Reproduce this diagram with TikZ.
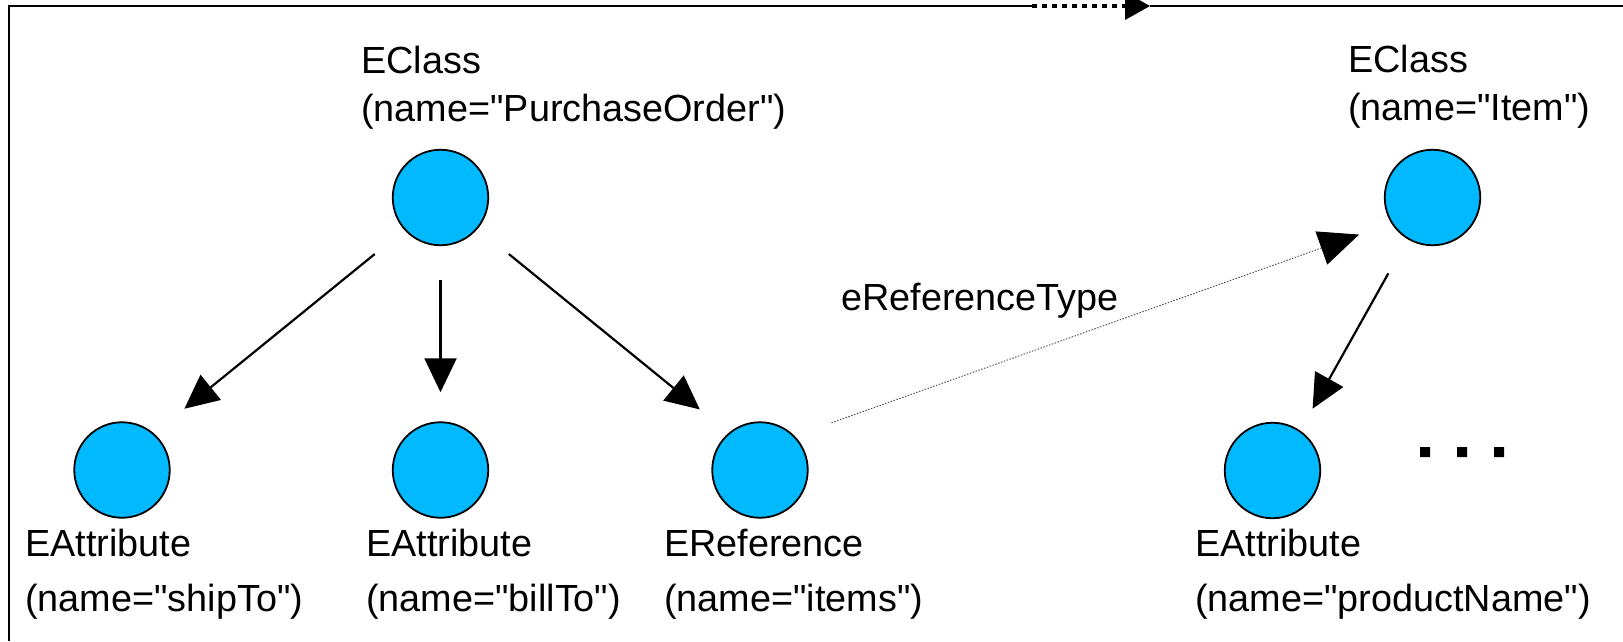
\documentclass[tikz,border=0pt]{standalone}
\usepackage{fontspec}
\setmainfont{Liberation Sans}[Ligatures=TeXOff]
\usetikzlibrary{arrows.meta, calc, positioning}

\definecolor{eblue}{RGB}{0,185,255}

\tikzstyle{eobject} = [circle, draw=black, line width=1.8pt, fill=eblue, minimum size=95.5pt, inner sep=0pt, outer sep=0pt]
\tikzstyle{elabel} = [anchor=north west, inner sep=0pt, align=left, font=\fontsize{37.8}{48}\selectfont]
\tikzstyle{blabel} = [elabel, font=\fontsize{37.8}{55}\selectfont]
\tikzstyle{arrow} = [line width=2.2pt, -{Triangle[length=34pt, width=32pt]}]
\tikzstyle{refarrow} = [line width=0.9pt, black!70, dash pattern=on 1.5pt off 1.5pt, -{Triangle[length=40pt, width=35pt, color=black]}]
\tikzstyle{frame} = [line width=2.4pt]

\begin{document}
\begin{tikzpicture}[x=1pt, y=1pt]
  \useasboundingbox (0,0) rectangle (1623,-641);

  % frame lines along the top and left
  \draw [frame] (9,-641) -- (9,-6) -- (1032,-6);
  \draw [frame] (1150,-6) -- (1623,-6);
  \draw [line width=4.5pt, dash pattern=on 5pt off 5pt, -{Triangle[length=25pt, width=28pt, line width=0pt]}] (1032,-6) -- (1150,-6);

  % objects
  \node (po) [eobject] at (440.5,-197.5) {};
  \node (bill) [eobject, below=177pt of po] {};
  \node (ship) [eobject, left=223pt of bill] {};
  \node (items) [eobject, right=224pt of bill] {};
  \node (item) [eobject] at (1432.5,-197.5) {};
  \node (pname) [eobject] at (1272.5,-470.5) {};

  % labels
  \node (polbl) [elabel] at (361,-46) {EClass\\(name="PurchaseOrder")};
  \node (itemlbl) [elabel] at (1348,-45) {EClass\\(name="Item")};
  \node (shiplbl) [blabel] at (25,-529) {EAttribute\\(name="shipTo")};
  \node (billlbl) [blabel] at (366,-529) {EAttribute\\(name="billTo")};
  \node (itemslbl) [blabel] at (664,-529) {EReference\\(name="items")};
  \node (pnamelbl) [blabel] at (1195,-529) {EAttribute\\(name="productName")};
  \node (reflbl) [elabel, anchor=base west] at (841,-310) {eReferenceType};

  \draw [arrow, shorten <=39pt, shorten >=40pt] (po.222) -- (ship.49);
  \draw [arrow, shorten <=35pt, shorten >=30pt] (po) -- (bill);
  \draw [arrow, shorten <=41pt, shorten >=38pt] (po.-40) -- (items.130);
  \draw [arrow, shorten <=40pt, shorten >=26pt] (item.239) -- (pname.55);
  \draw [refarrow, shorten <=40pt, shorten >=35pt] (items.45) -- (item.212);

  % square dots right of pname
  \fill (1420,-447) rectangle +(10,-10) (1457,-447) rectangle +(10,-10) (1494,-447) rectangle +(10,-10);
\end{tikzpicture}
\end{document}
